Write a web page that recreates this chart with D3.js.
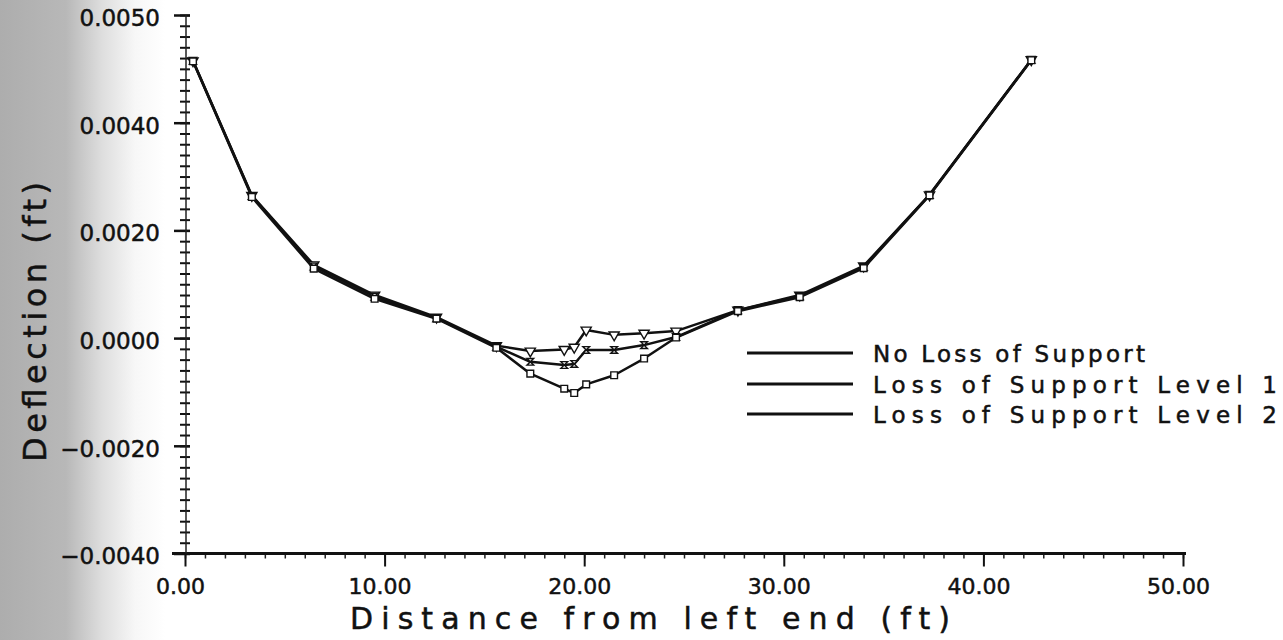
<!DOCTYPE html>
<html>
<head>
<meta charset="utf-8">
<script src="https://cdn.jsdelivr.net/npm/d3@7"></script>
<style>
  body { margin: 0; background: #fff; }
  svg { display: block; }
  text { font-family: "DejaVu Sans", sans-serif; fill: #111; stroke: #111; stroke-width: 0.5px; }
</style>
</head>
<body>
<svg id="chart" width="1283" height="640"></svg>
<script>
// Node positions along the slab (ft)
const distance = [0.4, 3.35, 6.45, 9.5, 12.6, 15.6, 17.3, 19.0, 19.5, 20.1, 21.5, 23.0, 24.6, 27.7, 30.8, 34.0, 37.3, 42.4];

// Deflections (ft) for each support condition
const noLoss = [0.00515, 0.00265, 0.00136, 0.00080, 0.00039, -0.00014, -0.00024, -0.00021, -0.00017, 0.00015, 0.00006, 0.00009, 0.00013, 0.00052, 0.00080, 0.00134, 0.00266, 0.00517];
const lossLevel1 = [0.00515, 0.00264, 0.00133, 0.00077, 0.00037, -0.00016, -0.00044, -0.00050, -0.00048, -0.00022, -0.00022, -0.00013, 0.00002, 0.00052, 0.00078, 0.00132, 0.00266, 0.00517];
const lossLevel2 = [0.00514, 0.00262, 0.00129, 0.00073, 0.00036, -0.00018, -0.00066, -0.00094, -0.00102, -0.00086, -0.00069, -0.00038, 0.00001, 0.00050, 0.00076, 0.00130, 0.00265, 0.00516];

const seriesNames = ["No Loss of Support", "Loss of Support Level 1", "Loss of Support Level 2"];

// Axis ticks
const xTickValues = [0, 10, 20, 30, 40, 50];
const xTickLabels = ["0.00", "10.00", "20.00", "30.00", "40.00", "50.00"];
const yTickValues = [-0.004, -0.002, 0, 0.002, 0.004, 0.006];
const yTickLabels = ["\u22120.0040", "\u22120.0020", "0.0000", "0.0020", "0.0040", "0.0050"];

const xTitle = "Distance from left end (ft)";
const yTitle = "Deflection (ft)";

const svg = d3.select("#chart");

// Grey scanned band along the left edge
const defs = svg.append("defs");
const grad = defs.append("linearGradient").attr("id", "edgeShade")
  .attr("x1", "0%").attr("x2", "100%").attr("y1", "0%").attr("y2", "0%");
[["0%", "#adadad"], ["40%", "#b8b8b8"], ["62%", "#dedede"], ["82%", "#f7f7f7"], ["100%", "#ffffff"]]
  .forEach(([o, c]) => grad.append("stop").attr("offset", o).attr("stop-color", c));
svg.append("rect").attr("x", 0).attr("y", 0).attr("width", 165).attr("height", 640)
  .attr("fill", "url(#edgeShade)");

const x = d3.scaleLinear().domain([0, 50]).range([185, 1183]);
const y = d3.scaleLinear().domain([-0.004, 0.006]).range([553.5, 15]);

const axisX = y(-0.004);
const axisY = x(0);

// Minor ticks
svg.append("g")
  .attr("transform", `translate(0,${axisX})`)
  .call(d3.axisBottom(x).tickValues(d3.range(0, 51, 1)).tickSize(5).tickFormat(""))
  .call(g => g.select(".domain").remove())
  .call(g => g.selectAll("line").attr("stroke", "#222").attr("stroke-width", 1.5));

svg.append("g")
  .attr("transform", `translate(${axisY + 5},0)`)
  .call(d3.axisLeft(y).tickValues(d3.range(-20, 31, 1).map(v => v * 0.0002)).tickSize(10).tickFormat(""))
  .call(g => g.select(".domain").remove())
  .call(g => g.selectAll("line").attr("stroke", "#111").attr("stroke-width", 2));

// Major ticks and labels
const gx = svg.append("g")
  .attr("transform", `translate(0,${axisX})`)
  .call(d3.axisBottom(x).tickValues(xTickValues).tickSize(13).tickPadding(12)
    .tickFormat((d, i) => xTickLabels[i]));
gx.select(".domain").remove();
gx.selectAll("line").attr("stroke", "#111").attr("stroke-width", 2);
gx.selectAll("text").attr("font-size", 22).attr("dx", -5).attr("fill", "#111")
  .attr("font-family", "DejaVu Sans");

const gy = svg.append("g")
  .attr("transform", `translate(${axisY + 5},0)`)
  .call(d3.axisLeft(y).tickValues(yTickValues).tickSize(16).tickPadding(14)
    .tickFormat((d, i) => yTickLabels[i]));
gy.select(".domain").remove();
gy.selectAll("line").attr("stroke", "#111").attr("stroke-width", 2.5);
gy.selectAll("text").attr("font-size", 23).attr("dy", "0.45em").attr("fill", "#111")
  .attr("font-family", "DejaVu Sans");

// Axis lines
svg.append("line").attr("x1", 172).attr("x2", x(50) + 3).attr("y1", axisX).attr("y2", axisX)
  .attr("stroke", "#111").attr("stroke-width", 3);
svg.append("line").attr("x1", axisY + 1).attr("x2", axisY + 1).attr("y1", y(0.006)).attr("y2", axisX)
  .attr("stroke", "#222").attr("stroke-width", 1.5);

// Axis titles
svg.append("text").attr("x", 350).attr("y", 629)
  .attr("font-size", 30).attr("textLength", 600).attr("lengthAdjust", "spacing")
  .text(xTitle);
svg.append("text")
  .attr("transform", "translate(46,462) rotate(-90)")
  .attr("font-size", 32).attr("textLength", 280).attr("lengthAdjust", "spacing")
  .text(yTitle);

// Series lines and markers
const series = [noLoss, lossLevel1, lossLevel2];
const line = d3.line().x((d, i) => x(distance[i])).y(d => y(d));

const hourglass = { draw(ctx, size) { const r = Math.sqrt(size) / 2;
  ctx.moveTo(-r, -r); ctx.lineTo(r, -r); ctx.lineTo(-r, r); ctx.lineTo(r, r); ctx.closePath(); } };
const markerTypes = [d3.symbolTriangle, hourglass, d3.symbolSquare];
const markerRotate = [180, 0, 0];

series.forEach((vals, s) => {
  svg.append("path").datum(vals)
    .attr("d", line)
    .attr("fill", "none").attr("stroke", "#111").attr("stroke-width", 2.5)
    .attr("stroke-linejoin", "round");
});
series.forEach((vals, s) => {
  svg.append("g").selectAll("path").data(vals).join("path")
    .attr("d", d3.symbol().type(markerTypes[s]).size(45))
    .attr("transform", (d, i) => `translate(${x(distance[i])},${y(d)}) rotate(${markerRotate[s]})`)
    .attr("fill", "#fff").attr("stroke", "#111").attr("stroke-width", 1.4);
});

// Legend
const legendY = [353, 384, 414];
seriesNames.forEach((name, i) => {
  svg.append("line").attr("x1", 747).attr("x2", 853).attr("y1", legendY[i]).attr("y2", legendY[i])
    .attr("stroke", "#111").attr("stroke-width", 3.2);
  svg.append("text").attr("x", 873).attr("y", legendY[i] + 9)
    .attr("font-size", 23)
    .attr("textLength", i === 0 ? 272 : 404).attr("lengthAdjust", "spacing")
    .text(name);
});
</script>
</body>
</html>
